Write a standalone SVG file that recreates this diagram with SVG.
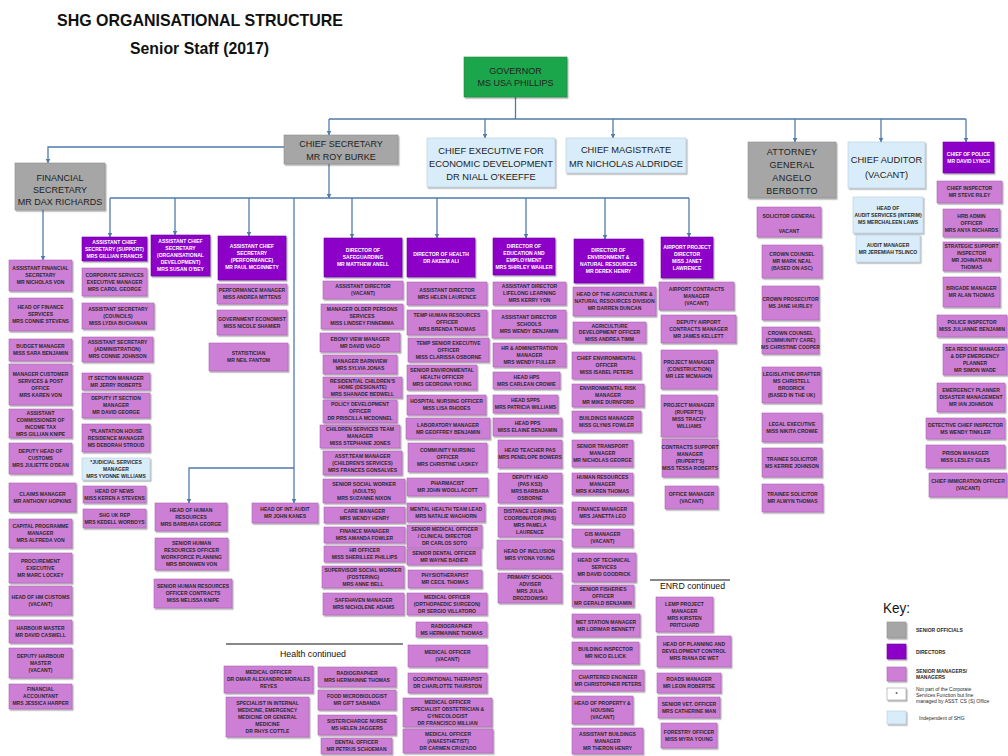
<svg xmlns="http://www.w3.org/2000/svg" width="1008" height="756" viewBox="0 0 1008 756">
<defs>
<filter id="sh" x="-10%" y="-10%" width="130%" height="140%"><feDropShadow dx="1.2" dy="1.4" stdDeviation="0.7" flood-color="#000" flood-opacity="0.35"/></filter>
<marker id="ar" markerWidth="5" markerHeight="5" refX="4.5" refY="2.5" orient="auto" markerUnits="userSpaceOnUse"><path d="M0,0 L5,2.5 L0,5 z" fill="#4f7bab"/></marker>
<style>
.p{fill:#cd7fd6;stroke:#a865b1;stroke-width:.6;filter:url(#sh)}
.d{fill:#8c00c8;stroke:#6d00a0;stroke-width:.6;filter:url(#sh)}
.g{fill:#a6a6a6;stroke:#8c8c8c;stroke-width:.6;filter:url(#sh)}
.b{fill:#d9ecf9;stroke:#b4cde0;stroke-width:.6;filter:url(#sh)}
.gn{fill:#1ea64b;stroke:#178a3c;stroke-width:.6;filter:url(#sh)}
.t{font-family:"Liberation Sans Narrow","Liberation Sans",sans-serif;font-size:5px;font-weight:bold;text-anchor:middle;fill:#2a2a2a}
.w{fill:#fff}
.h{font-family:"Liberation Sans Narrow","Liberation Sans",sans-serif;font-size:9px;text-anchor:middle;fill:#222}
.h2{font-size:9.3px}
.c{fill:none;stroke:#4f7bab;stroke-width:1.3}
.a{marker-end:url(#ar)}
.tt{font-family:"Liberation Sans",Arial,sans-serif;font-weight:bold;fill:#111}
.k{font-family:"Liberation Sans",Arial,sans-serif;fill:#111}
</style>
</defs>
<rect width="1008" height="756" fill="#fff"/>
<text class="tt" x="57" y="26" font-size="17" textLength="286" lengthAdjust="spacingAndGlyphs">SHG ORGANISATIONAL STRUCTURE</text>
<text class="tt" x="130" y="54" font-size="17" textLength="139" lengthAdjust="spacingAndGlyphs">Senior Staff (2017)</text>

<g id="connectors">
<path class="c" d="M515.5 97V119M329 119H966"/>
<path class="c a" d="M329 119V135"/>
<path class="c a" d="M485 119V138"/>
<path class="c a" d="M613 119V138"/>
<path class="c a" d="M795 119V142"/>
<path class="c a" d="M881 119V142"/>
<path class="c a" d="M966 119V142"/>
<path class="c a" d="M284 147H48V163"/>
<path class="c a" d="M43 210V260"/>
<path class="c a" d="M329 164V198"/>
<path class="c" d="M110 198H689"/>
<path class="c a" d="M110 198V237"/>
<path class="c a" d="M175 198V235"/>
<path class="c a" d="M249 198V236"/>
<path class="c a" d="M352 198V238"/>
<path class="c a" d="M437 198V238"/>
<path class="c a" d="M526 198V238"/>
<path class="c a" d="M605 198V239"/>
<path class="c a" d="M689 198V237"/>
<path class="c a" d="M294 198V503"/>
<path class="c a" d="M294 468H189V503"/>
</g>

<g id="governor"><rect class="gn" x="464" y="57" width="103" height="40"/><text class="h"><tspan x="515.5" y="74">GOVERNOR</tspan><tspan x="515.5" y="86">MS USA PHILLIPS</tspan></text></g>
<g id="chief-secretary"><rect class="g" x="284" y="135" width="114" height="29"/><text class="h"><tspan x="341" y="147">CHIEF SECRETARY</tspan><tspan x="341" y="160">MR ROY BURKE</tspan></text></g>
<g id="financial-secretary"><rect class="g" x="15" y="163" width="90" height="47"/><text class="h" font-size="8.3"><tspan x="60" y="181">FINANCIAL</tspan><tspan x="60" y="193">SECRETARY</tspan><tspan x="60" y="205">MR DAX RICHARDS</tspan></text></g>
<g id="chief-executive"><rect class="b" x="427" y="138" width="128" height="49"/><text class="h h2"><tspan x="491" y="153.5">CHIEF EXECUTIVE FOR</tspan><tspan x="491" y="166.5">ECONOMIC DEVELOPMENT</tspan><tspan x="491" y="180">DR NIALL O'KEEFFE</tspan></text></g>
<g id="chief-magistrate"><rect class="b" x="566" y="138" width="120" height="35"/><text class="h h2"><tspan x="626" y="152.5">CHIEF MAGISTRATE</tspan><tspan x="626" y="166.5">MR NICHOLAS ALDRIDGE</tspan></text></g>
<g id="attorney-general"><rect class="g" x="748" y="142" width="88" height="56"/><text class="h" font-size="9.5" letter-spacing="0.3"><tspan x="792" y="155">ATTORNEY</tspan><tspan x="792" y="168">GENERAL</tspan><tspan x="792" y="181">ANGELO</tspan><tspan x="792" y="194">BERBOTTO</tspan></text></g>
<g id="chief-auditor"><rect class="b" x="848" y="142" width="77" height="46"/><text class="h h2"><tspan x="886.5" y="162.5">CHIEF AUDITOR</tspan><tspan x="886.5" y="177.5">(VACANT)</tspan></text></g>
<g id="chief-police"><rect class="d" x="943" y="142" width="51" height="31"/><text class="t w" font-size="4.8"><tspan x="968.5" y="155.8">CHIEF OF POLICE</tspan><tspan x="968.5" y="162.8">MR DAVID LYNCH</tspan></text></g>

<g id="a1"><rect class="p" x="9" y="260" width="63" height="31"/><text class="t"><tspan x="40.5" y="270.3">ASSISTANT FINANCIAL</tspan><tspan x="40.5" y="277.3">SECRETARY</tspan><tspan x="40.5" y="284.3">MR NICHOLAS VON</tspan></text></g>
<g id="a2"><rect class="p" x="9" y="298" width="63" height="33"/><text class="t"><tspan x="40.5" y="309.3">HEAD OF FINANCE</tspan><tspan x="40.5" y="316.3">SERVICES</tspan><tspan x="40.5" y="323.3">MRS CONNIE STEVENS</tspan></text></g>
<g id="a3"><rect class="p" x="9" y="339" width="63" height="22"/><text class="t"><tspan x="40.5" y="348.3">BUDGET MANAGER</tspan><tspan x="40.5" y="355.3">MISS SARA BENJAMIN</tspan></text></g>
<g id="a4"><rect class="p" x="9" y="364" width="63" height="41"/><text class="t"><tspan x="40.5" y="375.8">MANAGER CUSTOMER</tspan><tspan x="40.5" y="382.8">SERVICES &amp; POST</tspan><tspan x="40.5" y="389.8">OFFICE</tspan><tspan x="40.5" y="396.8">MRS KAREN VON</tspan></text></g>
<g id="a5"><rect class="p" x="9" y="409" width="63" height="29"/><text class="t"><tspan x="40.5" y="414.8">ASSISTANT</tspan><tspan x="40.5" y="421.8">COMMISSIONER OF</tspan><tspan x="40.5" y="428.8">INCOME TAX</tspan><tspan x="40.5" y="435.8">MRS GILLIAN KNIPE</tspan></text></g>
<g id="a6"><rect class="p" x="9" y="443" width="63" height="31"/><text class="t"><tspan x="40.5" y="453.3">DEPUTY HEAD OF</tspan><tspan x="40.5" y="460.3">CUSTOMS</tspan><tspan x="40.5" y="467.3">MRS JULIETTE O'DEAN</tspan></text></g>
<g id="a7"><rect class="p" x="9" y="483" width="67" height="29"/><text class="t"><tspan x="42.5" y="495.8">CLAIMS MANAGER</tspan><tspan x="42.5" y="502.8">MR ANTHONY HOPKINS</tspan></text></g>
<g id="a8"><rect class="p" x="9" y="519" width="63" height="29"/><text class="t"><tspan x="40.5" y="528.3">CAPITAL PROGRAMME</tspan><tspan x="40.5" y="535.3">MANAGER</tspan><tspan x="40.5" y="542.3">MRS ALFREDA VON</tspan></text></g>
<g id="a9"><rect class="p" x="9" y="553" width="63" height="30"/><text class="t"><tspan x="40.5" y="562.8">PROCUREMENT</tspan><tspan x="40.5" y="569.8">EXECUTIVE</tspan><tspan x="40.5" y="576.8">MR MARC LOCKEY</tspan></text></g>
<g id="a10"><rect class="p" x="9" y="586" width="63" height="29"/><text class="t"><tspan x="40.5" y="598.8">HEAD OF HM CUSTOMS</tspan><tspan x="40.5" y="605.8">(VACANT)</tspan></text></g>
<g id="a11"><rect class="p" x="9" y="620" width="63" height="23"/><text class="t"><tspan x="40.5" y="629.8">HARBOUR MASTER</tspan><tspan x="40.5" y="636.8">MR DAVID CASWELL</tspan></text></g>
<g id="a12"><rect class="p" x="9" y="648" width="63" height="30"/><text class="t"><tspan x="40.5" y="657.8">DEPUTY HARBOUR</tspan><tspan x="40.5" y="664.8">MASTER</tspan><tspan x="40.5" y="671.8">(VACANT)</tspan></text></g>
<g id="a13"><rect class="p" x="9" y="684" width="63" height="25"/><text class="t"><tspan x="40.5" y="691.3">FINANCIAL</tspan><tspan x="40.5" y="698.3">ACCOUNTANT</tspan><tspan x="40.5" y="705.3">MRS JESSICA HARPER</tspan></text></g>

<g id="acs-support"><rect class="d" x="82" y="237" width="65" height="24"/><text class="t w"><tspan x="114.5" y="243.8">ASSISTANT CHIEF</tspan><tspan x="114.5" y="250.8">SECRETARY (SUPPORT)</tspan><tspan x="114.5" y="257.8">MRS GILLIAN FRANCIS</tspan></text></g>
<g id="b1"><rect class="p" x="82" y="268" width="65" height="28"/><text class="t"><tspan x="114.5" y="276.8">CORPORATE SERVICES</tspan><tspan x="114.5" y="283.8">EXECUTIVE MANAGER</tspan><tspan x="114.5" y="290.8">MRS CAROL GEORGE</tspan></text></g>
<g id="b2"><rect class="p" x="82" y="303" width="72" height="26"/><text class="t"><tspan x="118" y="310.8">ASSISTANT SECRETARY</tspan><tspan x="118" y="317.8">(COUNCILS)</tspan><tspan x="118" y="324.8">MISS LYDIA BUCHANAN</tspan></text></g>
<g id="b3"><rect class="p" x="82" y="337" width="71" height="25"/><text class="t"><tspan x="117.5" y="344.3">ASSISTANT SECRETARY</tspan><tspan x="117.5" y="351.3">(ADMINISTRATION)</tspan><tspan x="117.5" y="358.3">MRS CONNIE JOHNSON</tspan></text></g>
<g id="b4"><rect class="p" x="82" y="373" width="68" height="17"/><text class="t"><tspan x="116" y="379.8">IT SECTION MANAGER</tspan><tspan x="116" y="386.8">MR JERRY ROBERTS</tspan></text></g>
<g id="b5"><rect class="p" x="82" y="393" width="68" height="25"/><text class="t"><tspan x="116" y="400.3">DEPUTY IT SECTION</tspan><tspan x="116" y="407.3">MANAGER</tspan><tspan x="116" y="414.3">MR DAVID GEORGE</tspan></text></g>
<g id="b6"><rect class="p" x="82" y="424" width="68" height="28"/><text class="t"><tspan x="116" y="432.8">*PLANTATION HOUSE</tspan><tspan x="116" y="439.8">RESIDENCE MANAGER</tspan><tspan x="116" y="446.8">MS DEBORAH STROUD</tspan></text></g>
<g id="b7"><rect class="b" x="82" y="458" width="68" height="22"/><text class="t"><tspan x="116" y="463.8">*JUDICIAL SERVICES</tspan><tspan x="116" y="470.8">MANAGER</tspan><tspan x="116" y="477.8">MRS YVONNE WILLIAMS</tspan></text></g>
<g id="b8"><rect class="p" x="83" y="486" width="63" height="17"/><text class="t"><tspan x="114.5" y="492.8">HEAD OF NEWS</tspan><tspan x="114.5" y="499.8">MISS KEREN A STEVENS</tspan></text></g>
<g id="b9"><rect class="p" x="83" y="509" width="63" height="19"/><text class="t"><tspan x="114.5" y="516.8">SHG UK REP</tspan><tspan x="114.5" y="523.8">MRS KEDELL WORBOYS</tspan></text></g>

<g id="acs-orgdev"><rect class="d" x="151" y="235" width="59" height="41"/><text class="t w"><tspan x="180.5" y="243.3">ASSISTANT CHIEF</tspan><tspan x="180.5" y="250.3">SECRETARY</tspan><tspan x="180.5" y="257.3">(ORGANISATIONAL</tspan><tspan x="180.5" y="264.3">DEVELOPMENT)</tspan><tspan x="180.5" y="271.3">MRS SUSAN O'BEY</tspan></text></g>
<g id="hr1"><rect class="p" x="155" y="503" width="72" height="28"/><text class="t"><tspan x="191" y="511.8">HEAD OF HUMAN</tspan><tspan x="191" y="518.8">RESOURCES</tspan><tspan x="191" y="525.8">MRS BARBARA GEORGE</tspan></text></g>
<g id="hr2"><rect class="p" x="155" y="538" width="73" height="32"/><text class="t"><tspan x="191.5" y="545.3">SENIOR HUMAN</tspan><tspan x="191.5" y="552.3">RESOURCES OFFICER</tspan><tspan x="191.5" y="559.3">WORKFORCE PLANNING</tspan><tspan x="191.5" y="566.3">MRS BRONWEN VON</tspan></text></g>
<g id="hr3"><rect class="p" x="154" y="579" width="78" height="29"/><text class="t"><tspan x="193" y="588.3">SENIOR HUMAN RESOURCES</tspan><tspan x="193" y="595.3">OFFICER CONTRACTS</tspan><tspan x="193" y="602.3">MISS MELISSA KNIPE</tspan></text></g>
<g id="int-audit"><rect class="p" x="252" y="503" width="66" height="20"/><text class="t"><tspan x="285" y="511.3">HEAD OF INT. AUDIT</tspan><tspan x="285" y="518.3">MR JOHN KANES</tspan></text></g>

<g id="acs-performance"><rect class="d" x="218" y="236" width="68" height="44"/><text class="t w"><tspan x="252" y="248.3">ASSISTANT CHIEF</tspan><tspan x="252" y="255.3">SECRETARY</tspan><tspan x="252" y="262.3">(PERFORMANCE)</tspan><tspan x="252" y="269.3">MR PAUL MCGINNETY</tspan></text></g>
<g id="d1"><rect class="p" x="217" y="284" width="70" height="20"/><text class="t"><tspan x="252" y="292.3">PERFORMANCE MANAGER</tspan><tspan x="252" y="299.3">MISS ANDREA MITTENS</tspan></text></g>
<g id="d2"><rect class="p" x="217" y="310" width="70" height="25"/><text class="t"><tspan x="252" y="320.8">GOVERNMENT ECONOMIST</tspan><tspan x="252" y="327.8">MISS NICOLE SHAMIER</tspan></text></g>
<g id="d3"><rect class="p" x="209" y="343" width="79" height="28"/><text class="t"><tspan x="248.5" y="355.3">STATISTICIAN</tspan><tspan x="248.5" y="362.3">MR NEIL FANTOM</tspan></text></g>

<g id="dir-safeguarding"><rect class="d" x="324" y="238" width="78" height="39"/><text class="t w"><tspan x="363" y="252.3">DIRECTOR OF</tspan><tspan x="363" y="259.3">SAFEGUARDING</tspan><tspan x="363" y="266.3">MR MATTHEW ANELL</tspan></text></g>
<g id="e1"><rect class="p" x="323" y="281" width="80" height="18"/><text class="t"><tspan x="363" y="288.3">ASSISTANT DIRECTOR</tspan><tspan x="363" y="295.3">(VACANT)</tspan></text></g>
<g id="e2"><rect class="p" x="321" y="304" width="82" height="25"/><text class="t"><tspan x="362" y="311.3">MANAGER OLDER PERSONS</tspan><tspan x="362" y="318.3">SERVICES</tspan><tspan x="362" y="325.3">MISS LINDSEY FINNEMMA</tspan></text></g>
<g id="e3"><rect class="p" x="320" y="333" width="80" height="19"/><text class="t"><tspan x="360" y="340.8">EBONY VIEW MANAGER</tspan><tspan x="360" y="347.8">MR DAVID VAGO</tspan></text></g>
<g id="e4"><rect class="p" x="323" y="355" width="74" height="19"/><text class="t"><tspan x="360" y="362.8">MANAGER BARNVIEW</tspan><tspan x="360" y="369.8">MRS SYLVIA JONAS</tspan></text></g>
<g id="e5"><rect class="p" x="323" y="377" width="79" height="21"/><text class="t"><tspan x="362.5" y="382.5">RESIDENTIAL CHILDREN'S</tspan><tspan x="362.5" y="389.3">HOME (DESIGNATE)</tspan><tspan x="362.5" y="396.1">MRS SHANADE BEDWELL</tspan></text></g>
<g id="e6"><rect class="p" x="323" y="400" width="74" height="23"/><text class="t"><tspan x="360" y="406.3">POLICY DEVELOPMENT</tspan><tspan x="360" y="413.3">OFFICER</tspan><tspan x="360" y="420.3">DR PRISCILLA MCDONNEL</tspan></text></g>
<g id="e7"><rect class="p" x="320" y="425" width="80" height="23"/><text class="t"><tspan x="360" y="431.3">CHILDREN SERVICES TEAM</tspan><tspan x="360" y="438.3">MANAGER</tspan><tspan x="360" y="445.3">MISS STEPHANIE JONES</tspan></text></g>
<g id="e8"><rect class="p" x="323" y="451" width="79" height="24"/><text class="t"><tspan x="362.5" y="457.8">ASST.TEAM MANAGER</tspan><tspan x="362.5" y="464.8">(CHILDREN'S SERVICES)</tspan><tspan x="362.5" y="471.8">MRS FRANCES GONSALVES</tspan></text></g>
<g id="e9"><rect class="p" x="323" y="479" width="82" height="24"/><text class="t"><tspan x="364" y="485.8">SENIOR SOCIAL WORKER</tspan><tspan x="364" y="492.8">(ADULTS)</tspan><tspan x="364" y="499.8">MRS SUZANNE NIXON</tspan></text></g>
<g id="e10"><rect class="p" x="324" y="507" width="81" height="16"/><text class="t"><tspan x="364.5" y="513.3">CARE MANAGER</tspan><tspan x="364.5" y="520.3">MRS WENDY HENRY</tspan></text></g>
<g id="e11"><rect class="p" x="324" y="527" width="81" height="16"/><text class="t"><tspan x="364.5" y="533.3">FINANCE MANAGER</tspan><tspan x="364.5" y="540.3">MRS AMANDA FOWLER</tspan></text></g>
<g id="e12"><rect class="p" x="324" y="546" width="81" height="16"/><text class="t"><tspan x="364.5" y="552.3">HR OFFICER</tspan><tspan x="364.5" y="559.3">MISS SHERILLEE PHILLIPS</tspan></text></g>
<g id="e13"><rect class="p" x="322" y="566" width="82" height="22"/><text class="t"><tspan x="363" y="571.8">SUPERVISOR SOCIAL WORKER</tspan><tspan x="363" y="578.8">(FOSTERING)</tspan><tspan x="363" y="585.8">MRS ANNE BELL</tspan></text></g>
<g id="e14"><rect class="p" x="323" y="593" width="81" height="22"/><text class="t"><tspan x="363.5" y="602.3">SAFEHAVEN MANAGER</tspan><tspan x="363.5" y="609.3">MRS NICHOLENE ADAMS</tspan></text></g>

<g id="health-continued"><path d="M226 644H403" stroke="#111" stroke-width="1"/><text class="k" x="280" y="657" font-size="9.5" textLength="66" lengthAdjust="spacingAndGlyphs">Health continued</text></g>
<g id="hc1"><rect class="p" x="224" y="666" width="89" height="27"/><text class="t"><tspan x="268.5" y="674.3">MEDICAL OFFICER</tspan><tspan x="268.5" y="681.3">DR OMAR ALEXANDRO MORALES</tspan><tspan x="268.5" y="688.3">REYES</tspan></text></g>
<g id="hc2"><rect class="p" x="226" y="697" width="83" height="40"/><text class="t"><tspan x="267.5" y="704.8">SPECIALIST IN INTERNAL</tspan><tspan x="267.5" y="711.8">MEDICINE, EMERGENCY</tspan><tspan x="267.5" y="718.8">MEDICINE OR GENERAL</tspan><tspan x="267.5" y="725.8">MEDICINE</tspan><tspan x="267.5" y="732.8">DR RHYS COTTLE</tspan></text></g>
<g id="hc3"><rect class="p" x="318" y="667" width="78" height="20"/><text class="t"><tspan x="357" y="675.3">RADIOGRAPHER</tspan><tspan x="357" y="682.3">MRS HERMAINNE THOMAS</tspan></text></g>
<g id="hc4"><rect class="p" x="318" y="690" width="78" height="20"/><text class="t"><tspan x="357" y="698.3">FOOD MICROBIOLOGIST</tspan><tspan x="357" y="705.3">MR GIFT SABANDA</tspan></text></g>
<g id="hc5"><rect class="p" x="318" y="715" width="78" height="20"/><text class="t"><tspan x="357" y="723.3">SISTER/CHARGE NURSE</tspan><tspan x="357" y="730.3">MS HELEN JAGGERS</tspan></text></g>
<g id="hc6"><rect class="p" x="321" y="738" width="71" height="16"/><text class="t"><tspan x="356.5" y="744.3">DENTAL OFFICER</tspan><tspan x="356.5" y="751.3">MR PETRUS SCHOEMAN</tspan></text></g>

<g id="dir-health"><rect class="d" x="407" y="238" width="68" height="39"/><text class="t w"><tspan x="441" y="255.8">DIRECTOR OF HEALTH</tspan><tspan x="441" y="262.8">DR AKEEM ALI</tspan></text></g>
<g id="f1"><rect class="p" x="407" y="282" width="80" height="23"/><text class="t"><tspan x="447" y="291.8">ASSISTANT DIRECTOR</tspan><tspan x="447" y="298.8">MRS HELEN LAURENCE</tspan></text></g>
<g id="f2"><rect class="p" x="407" y="310" width="80" height="25"/><text class="t"><tspan x="447" y="317.3">TEMP HUMAN RESOURCES</tspan><tspan x="447" y="324.3">OFFICER</tspan><tspan x="447" y="331.3">MRS BRENDA THOMAS</tspan></text></g>
<g id="f3"><rect class="p" x="408" y="338" width="81" height="24"/><text class="t"><tspan x="448.5" y="344.8">TEMP SENIOR EXECUTIVE</tspan><tspan x="448.5" y="351.8">OFFICER</tspan><tspan x="448.5" y="358.8">MISS CLARISSA OSBORNE</tspan></text></g>
<g id="f4"><rect class="p" x="407" y="365" width="70" height="25"/><text class="t"><tspan x="442" y="372.3">SENIOR ENVIRONMENTAL</tspan><tspan x="442" y="379.3">HEALTH OFFICER</tspan><tspan x="442" y="386.3">MRS GEORGINA YOUNG</tspan></text></g>
<g id="f5"><rect class="p" x="407" y="395" width="79" height="20"/><text class="t"><tspan x="446.5" y="403.3">HOSPITAL NURSING OFFICER</tspan><tspan x="446.5" y="410.3">MISS LISA RHODES</tspan></text></g>
<g id="f6"><rect class="p" x="406" y="418" width="84" height="21"/><text class="t"><tspan x="448" y="426.8">LABORATORY MANAGER</tspan><tspan x="448" y="433.8">MR GEOFFREY BENJAMIN</tspan></text></g>
<g id="f7"><rect class="p" x="408" y="443" width="79" height="29"/><text class="t"><tspan x="447.5" y="452.3">COMMUNITY NURSING</tspan><tspan x="447.5" y="459.3">OFFICER</tspan><tspan x="447.5" y="466.3">MRS CHRISTINE LASKEY</tspan></text></g>
<g id="f8"><rect class="p" x="407" y="478" width="81" height="18"/><text class="t"><tspan x="447.5" y="485.3">PHARMACIST</tspan><tspan x="447.5" y="492.3">MR JOHN WOOLLACOTT</tspan></text></g>
<g id="f9"><rect class="p" x="407" y="503" width="78" height="19"/><text class="t"><tspan x="446" y="510.8">MENTAL HEALTH TEAM LEAD</tspan><tspan x="446" y="517.8">MRS NATALIE WAGHORN</tspan></text></g>
<g id="f10"><rect class="p" x="407" y="525" width="75" height="23"/><text class="t"><tspan x="444.5" y="531.3">SENIOR MEDICAL OFFICER</tspan><tspan x="444.5" y="538.3">/ CLINICAL DIRECTOR</tspan><tspan x="444.5" y="545.3">DR CARLOS SOTO</tspan></text></g>
<g id="f11"><rect class="p" x="407" y="549" width="74" height="16"/><text class="t"><tspan x="444" y="555.3">SENIOR DENTAL OFFICER</tspan><tspan x="444" y="562.3">MR WAYNE BADIER</tspan></text></g>
<g id="f12"><rect class="p" x="408" y="570" width="74" height="18"/><text class="t"><tspan x="445" y="577.3">PHYSIOTHERAPIST</tspan><tspan x="445" y="584.3">MR CECIL THOMAS</tspan></text></g>
<g id="f13"><rect class="p" x="407" y="593" width="80" height="22"/><text class="t"><tspan x="447" y="598.8">MEDICAL OFFICER</tspan><tspan x="447" y="605.8">(ORTHOPAEDIC SURGEON)</tspan><tspan x="447" y="612.8">DR SERGIO VILLATORO</tspan></text></g>
<g id="f14"><rect class="p" x="416" y="622" width="71" height="15"/><text class="t"><tspan x="451.5" y="627.8">RADIOGRAPHER</tspan><tspan x="451.5" y="634.8">MS HERMAINNE THOMAS</tspan></text></g>
<g id="f15"><rect class="p" x="408" y="645" width="79" height="22"/><text class="t"><tspan x="447.5" y="654.3">MEDICAL OFFICER</tspan><tspan x="447.5" y="661.3">(VACANT)</tspan></text></g>
<g id="f16"><rect class="p" x="408" y="673" width="79" height="20"/><text class="t"><tspan x="447.5" y="681.3">OCCUPATIONAL THERAPIST</tspan><tspan x="447.5" y="688.3">DR CHARLOTTE THURSTON</tspan></text></g>
<g id="f17"><rect class="p" x="403" y="698" width="89" height="29"/><text class="t"><tspan x="447.5" y="703.8">MEDICAL OFFICER</tspan><tspan x="447.5" y="710.8">SPECIALIST OBSTETRICIAN &amp;</tspan><tspan x="447.5" y="717.8">GYNECOLOGIST</tspan><tspan x="447.5" y="724.8">DR FRANCISCO MILLIAN</tspan></text></g>
<g id="f18"><rect class="p" x="403" y="729" width="90" height="24"/><text class="t"><tspan x="448" y="735.8">MEDICAL OFFICER</tspan><tspan x="448" y="742.8">(ANAESTHETIST)</tspan><tspan x="448" y="749.8">DR CARMEN CRUZADO</tspan></text></g>

<g id="dir-education"><rect class="d" x="493" y="238" width="62" height="37"/><text class="t w"><tspan x="524" y="247.8">DIRECTOR OF</tspan><tspan x="524" y="254.8">EDUCATION AND</tspan><tspan x="524" y="261.8">EMPLOYMENT</tspan><tspan x="524" y="268.8">MRS SHIRLEY WAHLER</tspan></text></g>
<g id="g1"><rect class="p" x="493" y="282" width="73" height="23"/><text class="t"><tspan x="529.5" y="288.3">ASSISTANT DIRECTOR</tspan><tspan x="529.5" y="295.3">LIFELONG LEARNING</tspan><tspan x="529.5" y="302.3">MRS KERRY YON</tspan></text></g>
<g id="g2"><rect class="p" x="492" y="310" width="74" height="28"/><text class="t"><tspan x="529" y="318.8">ASSISTANT DIRECTOR</tspan><tspan x="529" y="325.8">SCHOOLS</tspan><tspan x="529" y="332.8">MRS WENDY BENJAMIN</tspan></text></g>
<g id="g3"><rect class="p" x="493" y="343" width="73" height="24"/><text class="t"><tspan x="529.5" y="349.8">HR &amp; ADMINISTRATION</tspan><tspan x="529.5" y="356.8">MANAGER</tspan><tspan x="529.5" y="363.8">MRS WENDY FULLER</tspan></text></g>
<g id="g4"><rect class="p" x="493" y="372" width="67" height="17"/><text class="t"><tspan x="526.5" y="378.8">HEAD HPS</tspan><tspan x="526.5" y="385.8">MRS CARLEAN CROWIE</tspan></text></g>
<g id="g5"><rect class="p" x="493" y="395" width="65" height="18"/><text class="t"><tspan x="525.5" y="402.3">HEAD SPPS</tspan><tspan x="525.5" y="409.3">MRS PATRICIA WILLIAMS</tspan></text></g>
<g id="g6"><rect class="p" x="493" y="418" width="69" height="18"/><text class="t"><tspan x="527.5" y="425.3">HEAD PPS</tspan><tspan x="527.5" y="432.3">MISS ELAINE BENJAMIN</tspan></text></g>
<g id="g7"><rect class="p" x="498" y="440" width="64" height="28"/><text class="t"><tspan x="530" y="452.3">HEAD TEACHER PAS</tspan><tspan x="530" y="459.3">MRS PENELOPE BOWERS</tspan></text></g>
<g id="g8"><rect class="p" x="498" y="473" width="64" height="30"/><text class="t"><tspan x="530" y="479.3">DEPUTY HEAD</tspan><tspan x="530" y="486.3">(PAS KS3)</tspan><tspan x="530" y="493.3">MRS BARBARA</tspan><tspan x="530" y="500.3">OSBORNE</tspan></text></g>
<g id="g9"><rect class="p" x="498" y="507" width="64" height="30"/><text class="t"><tspan x="530" y="513.3">DISTANCE LEARNING</tspan><tspan x="530" y="520.3">COORDINATOR (PAS)</tspan><tspan x="530" y="527.3">MRS PAMELA</tspan><tspan x="530" y="534.3">LAURENCE</tspan></text></g>
<g id="g10"><rect class="p" x="497" y="540" width="65" height="29"/><text class="t"><tspan x="529.5" y="552.8">HEAD OF INCLUSION</tspan><tspan x="529.5" y="559.8">MRS VYONA YOUNG</tspan></text></g>
<g id="g11"><rect class="p" x="498" y="573" width="64" height="30"/><text class="t"><tspan x="530" y="579.3">PRIMARY SCHOOL</tspan><tspan x="530" y="586.3">ADVISER</tspan><tspan x="530" y="593.3">MRS JULIA</tspan><tspan x="530" y="600.3">DROZDOWSKI</tspan></text></g>

<g id="dir-enr"><rect class="d" x="574" y="239" width="69" height="44"/><text class="t w"><tspan x="608.5" y="252.3">DIRECTOR OF</tspan><tspan x="608.5" y="259.3">ENVIRONMENT &amp;</tspan><tspan x="608.5" y="266.3">NATURAL RESOURCES</tspan><tspan x="608.5" y="273.3">MR DEREK HENRY</tspan></text></g>
<g id="n1"><rect class="p" x="573" y="287" width="83" height="29"/><text class="t"><tspan x="614.5" y="296.3">HEAD OF THE AGRICULTURE &amp;</tspan><tspan x="614.5" y="303.3">NATURAL RESOURCES DIVISION</tspan><tspan x="614.5" y="310.3">MR DARREN DUNCAN</tspan></text></g>
<g id="n2"><rect class="p" x="573" y="322" width="73" height="21"/><text class="t"><tspan x="609.5" y="327.5">AGRICULTURE</tspan><tspan x="609.5" y="334.3">DEVELOPMENT OFFICER</tspan><tspan x="609.5" y="341.1">MISS ANDREA TIMM</tspan></text></g>
<g id="n3"><rect class="p" x="572" y="352" width="69" height="27"/><text class="t"><tspan x="606.5" y="360.3">CHIEF ENVIRONMENTAL</tspan><tspan x="606.5" y="367.3">OFFICER</tspan><tspan x="606.5" y="374.3">MISS ISABEL PETERS</tspan></text></g>
<g id="n4"><rect class="p" x="572" y="384" width="72" height="23"/><text class="t"><tspan x="608" y="390.3">ENVIRONMENTAL RISK</tspan><tspan x="608" y="397.3">MANAGER</tspan><tspan x="608" y="404.3">MR MIKE DURNFORD</tspan></text></g>
<g id="n5"><rect class="p" x="572" y="411" width="69" height="21"/><text class="t"><tspan x="606.5" y="419.8">BUILDINGS MANAGER</tspan><tspan x="606.5" y="426.8">MISS GLYNIS FOWLER</tspan></text></g>
<g id="n6"><rect class="p" x="572" y="440" width="61" height="27"/><text class="t"><tspan x="602.5" y="448.3">SENIOR TRANSPORT</tspan><tspan x="602.5" y="455.3">MANAGER</tspan><tspan x="602.5" y="462.3">MR NICHOLAS GEORGE</tspan></text></g>
<g id="n7"><rect class="p" x="572" y="473" width="61" height="22"/><text class="t"><tspan x="602.5" y="478.8">HUMAN RESOURCES</tspan><tspan x="602.5" y="485.8">MANAGER</tspan><tspan x="602.5" y="492.8">MRS KAREN THOMAS</tspan></text></g>
<g id="n8"><rect class="p" x="572" y="502" width="61" height="22"/><text class="t"><tspan x="602.5" y="511.3">FINANCE MANAGER</tspan><tspan x="602.5" y="518.3">MRS JANETTA LEO</tspan></text></g>
<g id="n9"><rect class="p" x="572" y="529" width="61" height="18"/><text class="t"><tspan x="602.5" y="536.3">GIS MANAGER</tspan><tspan x="602.5" y="543.3">(VACANT)</tspan></text></g>
<g id="n10"><rect class="p" x="572" y="553" width="64" height="29"/><text class="t"><tspan x="604" y="562.3">HEAD OF TECHNICAL</tspan><tspan x="604" y="569.3">SERVICES</tspan><tspan x="604" y="576.3">MR DAVID GOODRICK</tspan></text></g>
<g id="n11"><rect class="p" x="572" y="585" width="62" height="22"/><text class="t"><tspan x="603" y="590.8">SENIOR FISHERIES</tspan><tspan x="603" y="597.8">OFFICER</tspan><tspan x="603" y="604.8">MR GERALD BENJAMIN</tspan></text></g>
<g id="n12"><rect class="p" x="572" y="614" width="68" height="23"/><text class="t"><tspan x="606" y="623.8">MET STATION MANAGER</tspan><tspan x="606" y="630.8">MR LORIMAR BENNETT</tspan></text></g>
<g id="n13"><rect class="p" x="572" y="642" width="67" height="22"/><text class="t"><tspan x="605.5" y="651.3">BUILDING INSPECTOR</tspan><tspan x="605.5" y="658.3">MR NICO ELLICK</tspan></text></g>
<g id="n14"><rect class="p" x="572" y="670" width="72" height="21"/><text class="t"><tspan x="608" y="678.8">CHARTERED ENGINEER</tspan><tspan x="608" y="685.8">MR CHRISTOPHER PETERS</tspan></text></g>
<g id="n15"><rect class="p" x="572" y="696" width="61" height="28"/><text class="t"><tspan x="602.5" y="704.8">HEAD OF PROPERTY &amp;</tspan><tspan x="602.5" y="711.8">HOUSING</tspan><tspan x="602.5" y="718.8">(VACANT)</tspan></text></g>
<g id="n16"><rect class="p" x="572" y="728" width="71" height="26"/><text class="t"><tspan x="607.5" y="735.8">ASSISTANT BUILDINGS</tspan><tspan x="607.5" y="742.8">MANAGER</tspan><tspan x="607.5" y="749.8">MR THERON HENRY</tspan></text></g>

<g id="enrd-continued"><path d="M650 580H730" stroke="#111" stroke-width="1"/><text class="k" x="660" y="589" font-size="9.5" textLength="65" lengthAdjust="spacingAndGlyphs">ENRD continued</text></g>
<g id="r1"><rect class="p" x="656" y="597" width="57" height="35"/><text class="t"><tspan x="684.5" y="605.8">LEMP PROJECT</tspan><tspan x="684.5" y="612.8">MANAGER</tspan><tspan x="684.5" y="619.8">MRS KIRSTEN</tspan><tspan x="684.5" y="626.8">PRITCHARD</tspan></text></g>
<g id="r2"><rect class="p" x="657" y="636" width="74" height="31"/><text class="t"><tspan x="694" y="646.3">HEAD OF PLANNING AND</tspan><tspan x="694" y="653.3">DEVELOPMENT CONTROL</tspan><tspan x="694" y="660.3">MRS RIANA DE WET</tspan></text></g>
<g id="r3"><rect class="p" x="657" y="673" width="64" height="20"/><text class="t"><tspan x="689" y="681.3">ROADS MANAGER</tspan><tspan x="689" y="688.3">MR LEON ROBERTSE</tspan></text></g>
<g id="r4"><rect class="p" x="658" y="697" width="62" height="21"/><text class="t"><tspan x="689" y="705.8">SENIOR VET. OFFICER</tspan><tspan x="689" y="712.8">MRS CATHERINE MAN</tspan></text></g>
<g id="r5"><rect class="p" x="661" y="723" width="56" height="25"/><text class="t"><tspan x="689" y="733.8">FORESTRY OFFICER</tspan><tspan x="689" y="740.8">MISS MYRA YOUNG</tspan></text></g>

<g id="dir-airport"><rect class="d" x="661" y="237" width="52" height="41"/><text class="t w"><tspan x="687" y="248.8">AIRPORT PROJECT</tspan><tspan x="687" y="255.8">DIRECTOR</tspan><tspan x="687" y="262.8">MISS JANET</tspan><tspan x="687" y="269.8">LAWRENCE</tspan></text></g>
<g id="i1"><rect class="p" x="659" y="282" width="75" height="28"/><text class="t"><tspan x="696.5" y="290.8">AIRPORT CONTRACTS</tspan><tspan x="696.5" y="297.8">MANAGER</tspan><tspan x="696.5" y="304.8">(VACANT)</tspan></text></g>
<g id="i2"><rect class="p" x="661" y="315" width="75" height="28"/><text class="t"><tspan x="698.5" y="323.8">DEPUTY AIRPORT</tspan><tspan x="698.5" y="330.8">CONTRACTS MANAGER</tspan><tspan x="698.5" y="337.8">MR JAMES KELLETT</tspan></text></g>
<g id="i3"><rect class="p" x="661" y="350" width="56" height="39"/><text class="t"><tspan x="689" y="364.3">PROJECT MANAGER</tspan><tspan x="689" y="371.3">(CONSTRUCTION)</tspan><tspan x="689" y="378.3">MR LEE MCMAHON</tspan></text></g>
<g id="i4"><rect class="p" x="661" y="395" width="56" height="42"/><text class="t"><tspan x="689" y="407.3">PROJECT MANAGER</tspan><tspan x="689" y="414.3">(RUPERT'S)</tspan><tspan x="689" y="421.3">MISS TRACEY</tspan><tspan x="689" y="428.3">WILLIAMS</tspan></text></g>
<g id="i5"><rect class="p" x="662" y="439" width="56" height="38"/><text class="t"><tspan x="690" y="449.3">CONTRACTS SUPPORT</tspan><tspan x="690" y="456.3">MANAGER</tspan><tspan x="690" y="463.3">(RUPERT'S)</tspan><tspan x="690" y="470.3">MISS TESSA ROBERTS</tspan></text></g>
<g id="i6"><rect class="p" x="665" y="486" width="53" height="23"/><text class="t"><tspan x="691.5" y="495.8">OFFICE MANAGER</tspan><tspan x="691.5" y="502.8">(VACANT)</tspan></text></g>

<g id="j1"><rect class="p" x="757" y="207" width="64" height="30"/><text class="t"><tspan x="789" y="217.8">SOLICITOR GENERAL</tspan><tspan x="789" y="232.5">VACANT</tspan></text></g>
<g id="j2"><rect class="p" x="762" y="245" width="60" height="33"/><text class="t"><tspan x="792" y="256.3">CROWN COUNSEL</tspan><tspan x="792" y="263.3">MR MARK NEAL</tspan><tspan x="792" y="270.3">(BASED ON ASC)</tspan></text></g>
<g id="j3"><rect class="p" x="762" y="286" width="57" height="34"/><text class="t"><tspan x="790.5" y="301.3">CROWN PROSECUTOR</tspan><tspan x="790.5" y="308.3">MS JANE HURLEY</tspan></text></g>
<g id="j4"><rect class="p" x="762" y="327" width="57" height="27"/><text class="t"><tspan x="790.5" y="335.3">CROWN COUNSEL</tspan><tspan x="790.5" y="342.3">(COMMUNITY CARE)</tspan><tspan x="790.5" y="349.3">MS CHRISTINE COOPER</tspan></text></g>
<g id="j5"><rect class="p" x="762" y="367" width="59" height="36"/><text class="t"><tspan x="791.5" y="376.3">LEGISLATIVE DRAFTER</tspan><tspan x="791.5" y="383.3">MS CHRISTELL</tspan><tspan x="791.5" y="390.3">BRODRICK</tspan><tspan x="791.5" y="397.3">(BASED IN THE UK)</tspan></text></g>
<g id="j6"><rect class="p" x="762" y="413" width="60" height="29"/><text class="t"><tspan x="792" y="425.8">LEGAL EXECUTIVE</tspan><tspan x="792" y="432.8">MISS NIKITA CROWIE</tspan></text></g>
<g id="j7"><rect class="p" x="762" y="448" width="60" height="29"/><text class="t"><tspan x="792" y="460.8">TRAINEE SOLICITOR</tspan><tspan x="792" y="467.8">MS KERRIE JOHNSON</tspan></text></g>
<g id="j8"><rect class="p" x="762" y="484" width="61" height="28"/><text class="t"><tspan x="792.5" y="496.3">TRAINEE SOLICITOR</tspan><tspan x="792.5" y="503.3">MR ALWYN THOMAS</tspan></text></g>

<g id="k1"><rect class="b" x="853" y="197" width="70" height="36"/><text class="t"><tspan x="888" y="209.8">HEAD OF</tspan><tspan x="888" y="216.8">AUDIT SERVICES (INTERIM)</tspan><tspan x="888" y="223.8">MS MERCHALEEN LAWS</tspan></text></g>
<g id="k2"><rect class="b" x="856" y="235" width="64" height="27"/><text class="t"><tspan x="888" y="246.8">AUDIT MANAGER</tspan><tspan x="888" y="253.8">MR JEREMIAH TSLINCO</tspan></text></g>

<g id="l1"><rect class="p" x="937" y="181" width="65" height="22"/><text class="t"><tspan x="969.5" y="190.3">CHIEF INSPECTOR</tspan><tspan x="969.5" y="197.3">MR STEVE RILEY</tspan></text></g>
<g id="l2"><rect class="p" x="943" y="209" width="57" height="28"/><text class="t"><tspan x="971.5" y="217.8">HRB ADMIN</tspan><tspan x="971.5" y="224.8">OFFICER</tspan><tspan x="971.5" y="231.8">MRS ANYA RICHARDS</tspan></text></g>
<g id="l3"><rect class="p" x="943" y="242" width="57" height="29"/><text class="t"><tspan x="971.5" y="247.8">STRATEGIC SUPPORT</tspan><tspan x="971.5" y="254.8">INSPECTOR</tspan><tspan x="971.5" y="261.8">MR JOHNATHAN</tspan><tspan x="971.5" y="268.8">THOMAS</tspan></text></g>
<g id="l4"><rect class="p" x="943" y="277" width="57" height="30"/><text class="t"><tspan x="971.5" y="290.3">BRIGADE MANAGER</tspan><tspan x="971.5" y="297.3">MR ALAN THOMAS</tspan></text></g>
<g id="l5"><rect class="p" x="937" y="315" width="70" height="22"/><text class="t"><tspan x="972" y="324.3">POLICE INSPECTOR</tspan><tspan x="972" y="331.3">MISS JULIANNE BENJAMIN</tspan></text></g>
<g id="l6"><rect class="p" x="943" y="344" width="64" height="31"/><text class="t"><tspan x="975" y="350.8">SEA RESCUE MANAGER</tspan><tspan x="975" y="357.8">&amp; DEP EMERGENCY</tspan><tspan x="975" y="364.8">PLANNER</tspan><tspan x="975" y="371.8">MR SIMON WADE</tspan></text></g>
<g id="l7"><rect class="p" x="937" y="383" width="68" height="29"/><text class="t"><tspan x="971" y="392.3">EMERGENCY PLANNER</tspan><tspan x="971" y="399.3">DISASTER MANAGEMENT</tspan><tspan x="971" y="406.3">MR IAN JOHNSON</tspan></text></g>
<g id="l8"><rect class="p" x="926" y="418" width="79" height="21"/><text class="t"><tspan x="965.5" y="426.8">DETECTIVE CHIEF INSPECTOR</tspan><tspan x="965.5" y="433.8">MS WENDY TINKLER</tspan></text></g>
<g id="l9"><rect class="p" x="926" y="445" width="79" height="23"/><text class="t"><tspan x="965.5" y="454.8">PRISON MANAGER</tspan><tspan x="965.5" y="461.8">MISS LESLEY GILES</tspan></text></g>
<g id="l10"><rect class="p" x="929" y="473" width="78" height="24"/><text class="t"><tspan x="968" y="483.3">CHIEF IMMIGRATION OFFICER</tspan><tspan x="968" y="490.3">(VACANT)</tspan></text></g>

<g id="key">
<text class="k" x="883" y="613" font-size="14" textLength="27" lengthAdjust="spacingAndGlyphs">Key:</text>
<rect class="g" x="887" y="622" width="19" height="16"/>
<rect class="d" x="887" y="644" width="19" height="15"/>
<rect class="p" x="887" y="667" width="19" height="14"/>
<rect x="887" y="688" width="19" height="12" fill="#fff" stroke="#999" stroke-width=".6" filter="url(#sh)"/>
<text class="t" x="896.5" y="696">*</text>
<rect class="b" x="887" y="711" width="19" height="13"/>
<text class="t" style="text-anchor:start"><tspan x="916" y="631.5">SENIOR OFFICIALS</tspan><tspan x="916" y="653.5">DIRECTORS</tspan><tspan x="916" y="672.5">SENIOR MANAGERS/</tspan><tspan x="916" y="679">MANAGERS</tspan></text>
<text class="t" style="text-anchor:start;font-weight:normal;font-size:5px"><tspan x="916" y="690.5">Not part of the Corporate</tspan><tspan x="916" y="696.5">Services Function but line</tspan><tspan x="916" y="702.5">managed by ASST. CS (S) Office</tspan><tspan x="919" y="719.5">Independent of SHG</tspan></text>
</g>
</svg>
